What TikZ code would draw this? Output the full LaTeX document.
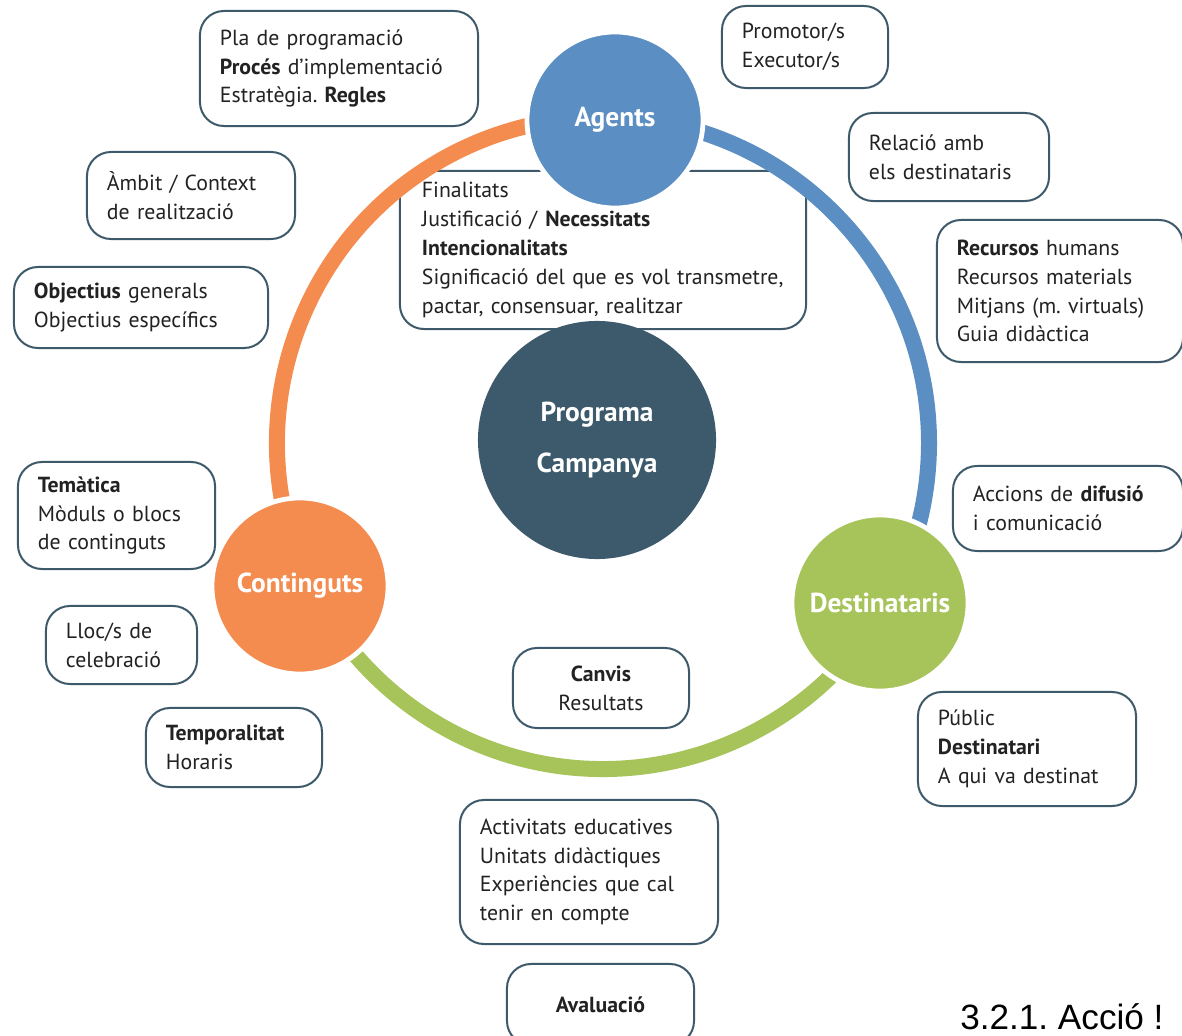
\documentclass[tikz,border=0pt]{standalone}
\usepackage{fontspec}
\setmainfont[WordSpace=0.8]{PT Sans}
\newfontfamily\arialfont{Liberation Sans}
\usepackage{xcolor}
\usepackage{tikz}
\frenchspacing

\definecolor{blau}{HTML}{5B8EC2}
\definecolor{taronja}{HTML}{F48C50}
\definecolor{verd}{HTML}{A6C45A}
\definecolor{fosc}{HTML}{3D5A6C}
\definecolor{vora}{HTML}{3E5A6A}
\definecolor{lletra}{HTML}{222222}

\begin{document}
\begin{tikzpicture}[
    x=0.025cm, y=-0.025cm,
    every node/.style={font=\fontsize{15.5}{20.5}\selectfont, text=lletra},
    caixa/.style={draw=vora, line width=0.05cm, rounded corners=0.6cm,
        fill=white, inner xsep=0.5cm, inner ysep=0pt, align=left},
    cercle/.style={circle, minimum size=4.4cm, draw=white, line width=0.12cm,
        text=white, align=center, font=\bfseries\fontsize{19.5}{22}\selectfont},
    anell/.style={line width=0.4cm}
]
\useasboundingbox (0,0) rectangle (1182,1036);
\clip (0,0) rectangle (1182,1036);
\coordinate (centre) at (603,443);

% caixes
\node[caixa, text width=5.95cm, minimum height=2.875cm] (pla) at (339,68.5)
    {Pla de programació\\\textbf{Procés} d’implementació\\Estratègia. \textbf{Regles}};
\node[caixa, text width=3.15cm, minimum height=2.05cm] (promotor) at (805,47)
    {Promotor/s\\Executor/s};
\node[caixa, text width=4.2cm, minimum height=2.175cm] (ambit) at (191,195.5)
    {Àmbit / Context\\de realització};
\node[caixa, text width=4.0cm, minimum height=2.2cm] (relacio) at (949,157)
    {Relació amb\\els destinataris};
\node[caixa, text width=5.35cm, minimum height=2.025cm] (objectius) at (141,307.5)
    {\textbf{Objectius} generals\\Objectius específics};
\node[caixa, text width=5.15cm, minimum height=3.55cm] (recursos) at (1060,291)
    {\textbf{Recursos} humans\\Recursos materials\\Mitjans (m. virtuals)\\Guia didàctica};
\node[caixa, inner xsep=0.55cm, text width=9.05cm, minimum height=3.95cm] (finalitats) at (603,250)
    {Finalitats\\Justificació / \textbf{Necessitats}\\\textbf{Intencionalitats}\\Significació del que es vol transmetre,\\pactar, consensuar, realitzar};
\node[caixa, text width=3.925cm, minimum height=2.675cm] (tematica) at (116.5,515.5)
    {\textbf{Temàtica}\\Mòduls o blocs\\de continguts};
\node[caixa, text width=4.75cm, minimum height=2.125cm] (accions) at (1068,508.5)
    {Accions de \textbf{difusió}\\i comunicació};
\node[caixa, text width=2.775cm, minimum height=1.95cm] (lloc) at (121.5,645)
    {Lloc/s de\\celebració};
\node[caixa, text width=3.4cm, minimum height=2.0cm, align=center] (canvis) at (601,688)
    {\textbf{Canvis}\\Resultats};
\node[caixa, text width=3.4cm, minimum height=1.975cm] (temporalitat) at (234,747.5)
    {\textbf{Temporalitat}\\Horaris};
\node[caixa, text width=4.45cm, minimum height=2.85cm] (public) at (1027,749)
    {Públic\\\textbf{Destinatari}\\A qui va destinat};
\node[caixa, text width=5.45cm, minimum height=3.6cm] (activitats) at (589,872)
    {Activitats educatives\\Unitats didàctiques\\Experiències que cal\\tenir en compte};
\node[caixa, text width=3.675cm, minimum height=2.025cm, align=center] (avaluacio) at (600.5,1004.5)
    {\textbf{Avaluació}};

% anell
\draw[anell, taronja] (centre) ++(155:326) arc[start angle=155, end angle=272, radius=326];
\draw[anell, blau] (centre) ++(272:326) arc[start angle=272, end angle=390, radius=326];
\draw[anell, verd] (centre) ++(30:326) arc[start angle=30, end angle=155, radius=326];

% cercles
\node[cercle, fill=blau] (agents) at (615,120) {Agents};
\node[cercle, fill=taronja] (continguts) at (300,586) {Continguts};
\node[cercle, fill=verd] (destinataris) at (880,603) {Destinataris};
\node[cercle, fill=fosc, draw=none, minimum size=5.95cm] (programa) at (597,440)
    {Programa\\[14pt]Campanya};

\node[anchor=base west, inner sep=0pt, text=black,
    font=\arialfont\fontsize{25}{30}\selectfont] (titol) at (960,1029) {3.2.1. Acció !};
\end{tikzpicture}
\end{document}
